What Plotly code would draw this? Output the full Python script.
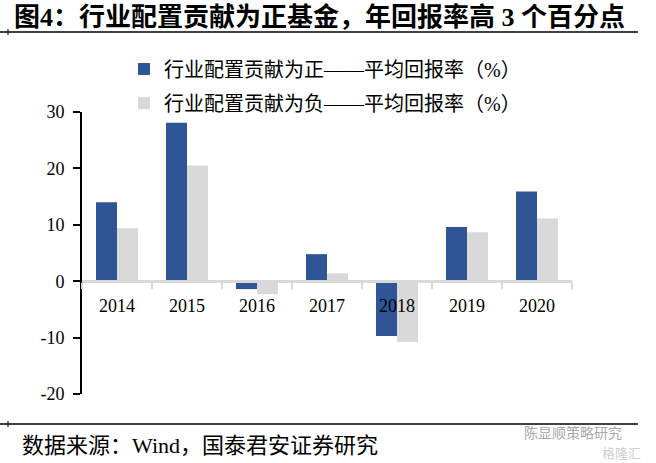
import plotly.graph_objects as go

years = ["2014", "2015", "2016", "2017", "2018", "2019", "2020"]
positive = [14.0, 28.1, -1.4, 4.8, -9.7, 9.6, 15.9]
negative = [9.4, 20.5, -2.3, 1.4, -10.8, 8.7, 11.1]
y_tickvals = [-20, -10, 0, 10, 20, 30]
y_ticktext = ["-20", "-10", "0", "10", "20", "30"]
name_pos = "行业配置贡献为正——平均回报率（%）"
name_neg = "行业配置贡献为负——平均回报率（%）"
title_text = "图4：行业配置贡献为正基金，年回报率高 3 个百分点"
source_text = "数据来源：Wind，国泰君安证券研究"
watermark_text = "陈显顺策略研究"
logo_text = "格隆汇"

FONT = "Liberation Serif, Noto Sans CJK SC, serif"
BLUE = "#2F5597"
GRAY = "#D9D9D9"

W, H = 656, 463
L, R, T, B = 82, 84, 112, 69
pw, ph = W - L - R, H - T - B


def px(x):
    return (x - L) / pw


def py(y):
    return (H - B - y) / ph


fig = go.Figure()
fig.add_trace(go.Bar(x=years, y=positive, name=name_pos,
                     marker=dict(color=BLUE, line=dict(width=0)), legend="legend"))
fig.add_trace(go.Bar(x=years, y=negative, name=name_neg,
                     marker=dict(color=GRAY, line=dict(width=0)), legend="legend2"))

ymin, ymax = -20, 30
legend_font = dict(family=FONT, size=20, color="black")
fig.update_layout(
    width=W, height=H,
    margin=dict(l=L, r=R, t=T, b=B, autoexpand=False),
    paper_bgcolor="white", plot_bgcolor="white",
    barmode="group", bargap=0.4, bargroupgap=0,
    font=dict(family=FONT, size=17, color="black"),
    title=dict(text="<b>" + title_text + "</b>", xref="container", yref="container",
               x=14 / W, y=1 - 17 / H, xanchor="left", yanchor="middle",
               font=dict(family=FONT, size=26, color="black")),
    xaxis=dict(type="category", anchor="free", position=(0 - ymin) / (ymax - ymin),
               showline=True, linecolor=GRAY, linewidth=2.5,
               ticks="outside", tickson="boundaries", tickcolor=GRAY, ticklen=6, tickwidth=2,
               ticklabelstandoff=7,
               showgrid=False, zeroline=False,
               tickfont=dict(family=FONT, size=18, color="black")),
    yaxis=dict(range=[ymin, ymax], tickvals=y_tickvals, ticktext=y_ticktext,
               showline=True, linecolor="black", linewidth=2,
               ticks="outside", ticklen=7, tickwidth=2, tickcolor="black",
               ticklabelstandoff=5,
               showgrid=False, zeroline=False,
               tickfont=dict(family=FONT, size=18, color="black")),
    legend=dict(xref="container", yref="container", x=124 / W, y=1 - 69 / H,
                xanchor="left", yanchor="middle",
                font=legend_font, bgcolor="rgba(0,0,0,0)"),
    legend2=dict(xref="container", yref="container", x=124 / W, y=1 - 103 / H,
                 xanchor="left", yanchor="middle",
                 font=legend_font, bgcolor="rgba(0,0,0,0)"),
    showlegend=True,
)

# separator lines with small left ticks
for yl in (32, 424):
    fig.add_shape(type="line", xref="paper", yref="paper", x0=px(0), x1=px(638),
                  y0=py(yl), y1=py(yl), line=dict(color="black", width=1.5))
    fig.add_shape(type="line", xref="paper", yref="paper", x0=px(8), x1=px(8),
                  y0=py(yl - 3), y1=py(yl + 3), line=dict(color="black", width=1))

fig.add_annotation(text=source_text, xref="paper", yref="paper", x=px(20), y=py(445),
                   xanchor="left", yanchor="middle", showarrow=False,
                   font=dict(family=FONT, size=22, color="black"))
fig.add_annotation(text=watermark_text, xref="paper", yref="paper", x=px(522), y=py(432),
                   xanchor="left", yanchor="middle", showarrow=False,
                   font=dict(family="Noto Sans CJK SC", size=14, color="#a8a8a8"))
fig.add_annotation(text=logo_text, xref="paper", yref="paper", x=px(600), y=py(452),
                   xanchor="left", yanchor="middle", showarrow=False,
                   font=dict(family="Noto Sans CJK SC", size=13, color="#cfcfcf"))

fig.write_html("out.html", config={"displayModeBar": False},
               post_script="document.body.style.margin='0px';")
